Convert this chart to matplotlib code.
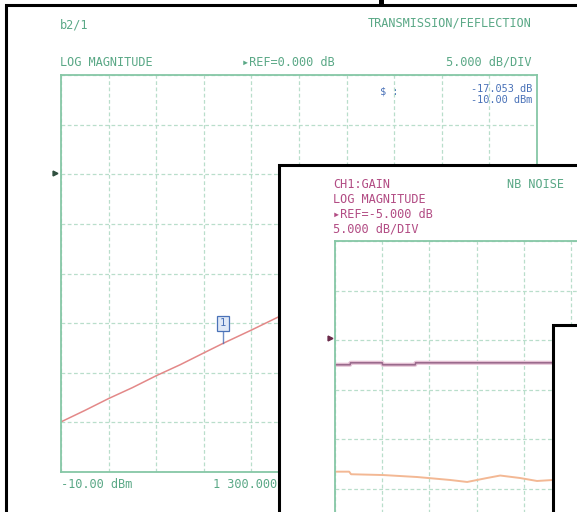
import matplotlib
matplotlib.use('Agg')
import matplotlib.pyplot as plt
from matplotlib.patches import Rectangle

# ---------------- data ----------------
# Panel 1 (transmission, log magnitude, x in graticule divisions)
p1_x = [0.0, 0.5, 1.0, 1.5, 2.0, 2.5, 3.0, 3.4, 4.0, 4.6, 4.8]
p1_db = [-24.95, -23.8, -22.6, -21.5, -20.3, -19.2, -18.0, -17.05, -15.7, -14.3, -13.9]
marker_x = 3.4
marker_db = -17.05

# Panel 2 (CH1 gain, two traces)
p2_purple_x = [0.0, 0.32, 0.33, 1.0, 1.01, 1.7, 1.71, 5.0]
p2_purple_db = [-7.5, -7.5, -7.3, -7.3, -7.5, -7.5, -7.3, -7.3]
p2_orange_x = [0.0, 0.30, 0.34, 1.02, 1.74, 2.44, 2.80, 3.22, 3.50, 3.92, 4.28, 4.62, 5.0]
p2_orange_db = [-18.3, -18.3, -18.56, -18.64, -18.84, -19.14, -19.34, -18.94, -18.69, -18.94, -19.24, -19.14, -19.1]

# texts
p1_title_left = "b2/1"
p1_title_right = "TRANSMISSION/FEFLECTION"
p1_format = "LOG MAGNITUDE"
p1_ref = "\u25b8REF=0.000 dB"
p1_scale = "5.000 dB/DIV"
p1_mk_label = "$ :"
p1_mk_val1 = "-17.053 dB"
p1_mk_val2 = "-10.00 dBm"
p1_start = "-10.00 dBm"
p1_center = "1 300.000 000 MHz"
p2_lines = ["CH1:GAIN", "LOG MAGNITUDE", "\u25b8REF=-5.000 dB", "5.000 dB/DIV"]
p2_right = "NB NOISE"

# ---------------- style ----------------
W, H = 577, 512
GREEN = '#5aa886'
GRID = '#b9decb'
AXG = '#86c7a6'
BLUE = '#4a72b8'
MAG = '#b24c84'
FONT = dict(family='DejaVu Sans Mono', fontsize=8.6)
SMALL = dict(family='DejaVu Sans Mono', fontsize=7.4)

fig = plt.figure(figsize=(W / 100, H / 100), dpi=100)
fig.patch.set_facecolor('white')


def px_axes(z):
    ax = fig.add_axes([0, 0, 1, 1], zorder=z)
    ax.set_xlim(0, W)
    ax.set_ylim(H, 0)
    ax.axis('off')
    ax.patch.set_alpha(0)
    return ax


def plot_axes(x0, y0, x1, y1, z, ylim):
    ax = fig.add_axes([x0 / W, 1 - y1 / H, (x1 - x0) / W, (y1 - y0) / H], zorder=z)
    ax.patch.set_alpha(0)
    ax.set_xlim(0, 10)
    ax.set_ylim(*ylim)
    ax.set_xticks(range(0, 11))
    ax.set_yticks([ylim[0] + 5 * i for i in range(9)])
    ax.tick_params(length=0, labelbottom=False, labelleft=False)
    ax.grid(True, color=GRID, linestyle=(0, (3, 2)), linewidth=0.9)
    for s in ax.spines.values():
        s.set_color(AXG)
        s.set_linewidth(1.3)
    return ax


# ---------- panel 1 ----------
b1 = px_axes(0)
b1.add_patch(Rectangle((6, 5), 700, 700, facecolor='white', edgecolor='black', linewidth=2.2))
b1.add_patch(Rectangle((379, -2), 5, 7, facecolor='black', edgecolor='none'))
b1.text(60, 25, p1_title_left, color=GREEN, va='center', ha='left', **FONT)
b1.text(532, 23, p1_title_right, color=GREEN, va='center', ha='right', **FONT)
b1.text(60, 62, p1_format, color=GREEN, va='center', ha='left', **FONT)
b1.text(242, 62, p1_ref, color=GREEN, va='center', ha='left', **FONT)
b1.text(532, 62, p1_scale, color=GREEN, va='center', ha='right', **FONT)
b1.text(380, 91, p1_mk_label, color=BLUE, va='center', ha='left', **SMALL)
b1.text(532, 89, p1_mk_val1, color=BLUE, va='center', ha='right', **SMALL)
b1.text(532, 100, p1_mk_val2, color=BLUE, va='center', ha='right', **SMALL)
b1.text(61, 484, p1_start, color=GREEN, va='center', ha='left', **FONT)
b1.text(213, 484, p1_center, color=GREEN, va='center', ha='left', **FONT)
b1.plot([55], [173], marker='>', color='#2f4f3f', markersize=3.5)

ax1 = plot_axes(61, 75, 537, 472, 1, (-30, 10))
ax1.plot(p1_x, p1_db, color='#e38888', linewidth=1.1)
ax1.plot([marker_x, marker_x], [marker_db, -15.9], color=BLUE, linewidth=1.0, alpha=0.8)
ax1.text(marker_x, -15.0, "1", color=BLUE, ha='center', va='center',
         family='DejaVu Sans Mono', fontsize=7.5,
         bbox=dict(boxstyle='square,pad=0.25', facecolor='#dfe8f6', edgecolor=BLUE, linewidth=0.9))

# ---------- panel 2 ----------
b2 = px_axes(2)
b2.add_patch(Rectangle((279, 165), 700, 700, facecolor='white', edgecolor='black', linewidth=2.2))
for i, t in enumerate(p2_lines):
    b2.text(333, 185 + i * 14.6, t, color=MAG, va='center', ha='left', **FONT)
b2.text(507, 185, p2_right, color=GREEN, va='center', ha='left', **FONT)
b2.plot([330], [338], marker='>', color='#6a2a4a', markersize=3.5)

ax2 = plot_axes(335, 241, 807, 637, 3, (-35, 5))
ax2.plot(p2_purple_x, p2_purple_db, color='#e8c6d8', linewidth=3.0)
ax2.plot(p2_purple_x, p2_purple_db, color='#9a6a8c', linewidth=1.2)
ax2.plot(p2_orange_x, p2_orange_db, color='#f3b894', linewidth=1.4)

# ---------- panel 3 ----------
b3 = px_axes(4)
b3.add_patch(Rectangle((553, 325), 700, 700, facecolor='white', edgecolor='black', linewidth=2.2))

fig.savefig('out.png', dpi=100, facecolor='white')
